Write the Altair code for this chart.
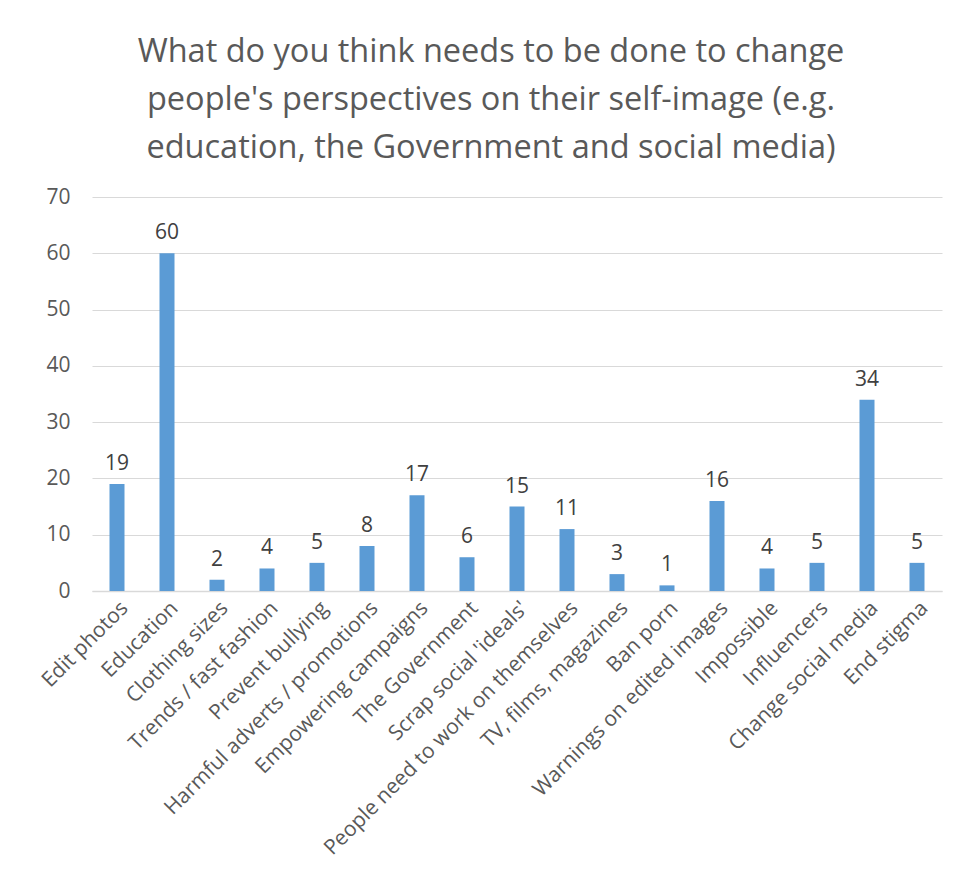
import altair as alt
import pandas as pd

categories = [
    "Edit photos", "Education", "Clothing sizes", "Trends / fast fashion",
    "Prevent bullying", "Harmful adverts / promotions", "Empowering campaigns",
    "The Government", "Scrap social 'ideals'", "People need to work on themselves",
    "TV, films, magazines", "Ban porn", "Warnings on edited images", "Impossible",
    "Influencers", "Change social media", "End stigma",
]
values = [19, 60, 2, 4, 5, 8, 17, 6, 15, 11, 3, 1, 16, 4, 5, 34, 5]
y_ticks = [0, 10, 20, 30, 40, 50, 60, 70]
title_lines = [
    "What do you think needs to be done to change",
    "people's perspectives on their self-image (e.g.",
    "education, the Government and social media)",
]

df = pd.DataFrame({"category": categories, "value": values})

x = alt.X(
    "category:N", sort=categories, title=None,
    scale=alt.Scale(paddingInner=0.7, paddingOuter=0.35),
    axis=alt.Axis(labelAngle=-45, labelFontSize=21, labelColor="#595959",
                  labelFont="Open Sans", ticks=False, domainColor="#d9d9d9",
                  domainWidth=1.5, labelPadding=6, labelLimit=500),
)
y = alt.Y(
    "value:Q", title=None,
    scale=alt.Scale(domain=[0, 70], nice=False),
    axis=alt.Axis(values=y_ticks, labelFontSize=21, labelColor="#595959",
                  labelFont="Open Sans", ticks=False, domain=False,
                  gridColor="#d9d9d9", gridWidth=1.2, labelPadding=22),
)

bars = alt.Chart(df).mark_bar(color="#5B9BD5").encode(x=x, y=y)
labels = alt.Chart(df).mark_text(
    baseline="bottom", dy=-10, fontSize=21, color="#404040", font="Open Sans"
).encode(x=alt.X("category:N", sort=categories), y="value:Q", text="value:Q")

chart = (bars + labels).properties(
    width=850, height=394,
    title=alt.TitleParams(
        text=title_lines, fontSize=32.5, font="Open Sans", fontWeight="normal",
        color="#595959", lineHeight=48, anchor="middle", offset=22, dx=-26,
    ),
    autosize=alt.AutoSizeParams(type="none"),
    padding={"left": 84, "top": 189, "right": 7, "bottom": 275},
).configure(background="white").configure_view(stroke=None, strokeWidth=0)

chart.save("out.html", embed_options={"renderer": "svg", "actions": False})
